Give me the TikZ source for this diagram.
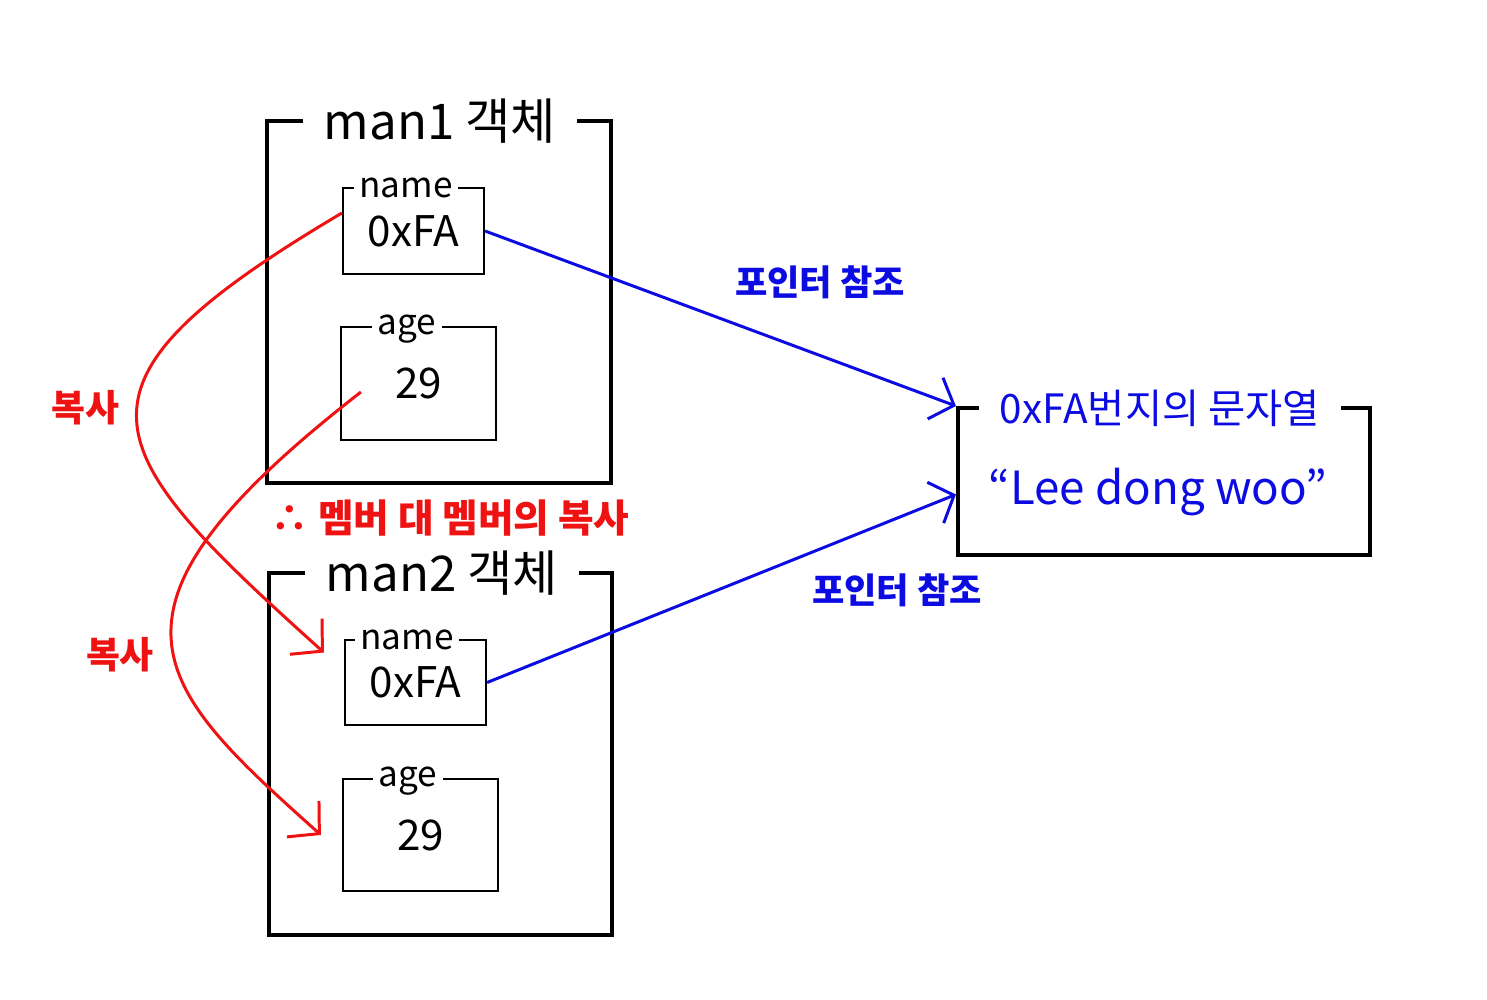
\documentclass[tikz,border=0pt]{standalone}
\usepackage{fontspec}
\setmainfont{Noto Sans CJK KR}
\usetikzlibrary{arrows.meta}
\definecolor{penred}{RGB}{238,18,18}
\definecolor{penblue}{RGB}{12,12,226}
\begin{document}
\begin{tikzpicture}[x=0.01cm, y=-0.01cm,
  objbox/.style={draw, line width=1.1pt},
  fieldbox/.style={draw, line width=0.6pt},
  boxtitle/.style={fill=white, inner xsep=6pt, inner ysep=1pt, font=\fontsize{14}{16}\selectfont},
  fieldtitle/.style={fill=white, inner xsep=1.5pt, inner ysep=0pt, font=\fontsize{10}{12}\selectfont},
  value/.style={font=\fontsize{12}{14}\selectfont},
  copyline/.style={penred, line width=0.85pt, -{Straight Barb[length=0.22cm,width=0.48cm]}},
  refline/.style={penblue, line width=0.85pt, -{Straight Barb[length=0.2cm,width=0.44cm]}},
  note/.style={font=\fontsize{10}{12}\selectfont\bfseries}]
\useasboundingbox (0,0) rectangle (1487,1000);
% man1
\node [objbox, minimum width=3.44cm, minimum height=3.62cm] (man1) at (439,302) {};
\node [boxtitle] (man1t) at (440,121) {man1 객체};
\node [fieldbox, minimum width=1.41cm, minimum height=0.86cm, value] (name1) at (413.5,231) {0xFA};
\node [fieldtitle] (name1t) at (406,188) {name};
\node [fieldbox, minimum width=1.55cm, minimum height=1.13cm, value] (age1) at (418.5,383.5) {29};
\node [fieldtitle] (age1t) at (407,329) {age};
% man2
\node [objbox, minimum width=3.43cm, minimum height=3.62cm] (man2) at (440.5,754) {};
\node [boxtitle] (man2t) at (442,573) {man2 객체};
\node [fieldbox, minimum width=1.41cm, minimum height=0.85cm, value] (name2) at (415.5,682.5) {0xFA};
\node [fieldtitle] (name2t) at (407,640) {name};
\node [fieldbox, minimum width=1.55cm, minimum height=1.12cm, value] (age2) at (420.5,835) {29};
\node [fieldtitle] (age2t) at (408,781) {age};
% string
\node [objbox, minimum width=4.12cm, minimum height=1.47cm] (str) at (1164,481.5) {};
\node [boxtitle, text=penblue, font=\fontsize{11.5}{14}\selectfont] (strt) at (1160,408) {0xFA번지의 문자열};
\node [text=penblue, font=\fontsize{13}{15}\selectfont] (strv) at (1158,492) {“Lee dong woo”};
\coordinate (strin) at ([yshift=-0.13cm]str.west);
% pointers
\draw [refline] (name1.east) -- (str.north west);
\draw [refline] (name2.east) -- (strin);
\node [note, text=penblue] (ref1) at (820,282) {포인터 참조};
\node [note, text=penblue] (ref2) at (897,590) {포인터 참조};
% copies
\coordinate (c1s) at ([yshift=0.18cm]name1.west);
\coordinate (c1e) at ([xshift=-0.2cm, yshift=0.3cm]name2.west);
\coordinate (c2s) at ([xshift=0.21cm, yshift=-0.085cm]age1.west);
\coordinate (c2e) at ([xshift=-0.21cm]age2.west);
\draw [copyline] (c1s) .. controls (50,386) and (93,445) .. (c1e);
\draw [copyline] (c2s) .. controls (78,612) and (152,684) .. (c2e);
\node [note, text=penred, font=\fontsize{10.5}{13}\selectfont\bfseries] (cp1) at (85,408) {복사};
\node [note, text=penred, font=\fontsize{10.5}{13}\selectfont\bfseries] (cp2) at (120,655) {복사};
\node [note, text=penred, font=\fontsize{11}{13}\selectfont\bfseries] (memb) at (450,518) {∴ 멤버 대 멤버의 복사};
\end{tikzpicture}
\end{document}
